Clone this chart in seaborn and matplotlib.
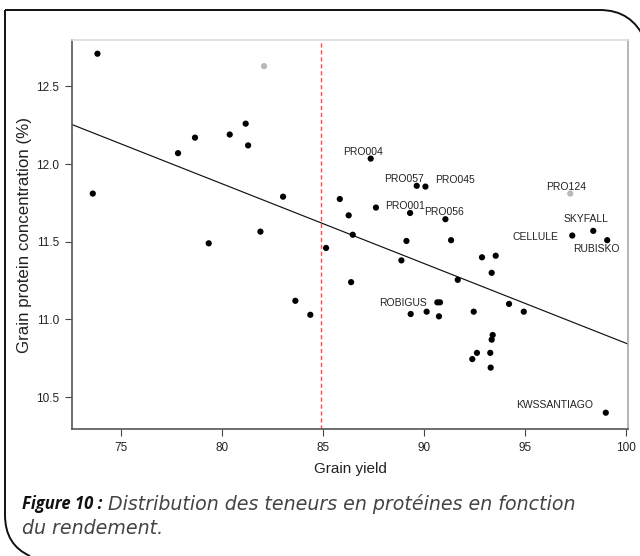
import matplotlib
matplotlib.use("Agg")
import matplotlib.pyplot as plt
import seaborn as sns
import pandas as pd
from matplotlib.path import Path
from matplotlib.patches import PathPatch

# ---- data ----
yield_vals = [73.83, 82.08, 78.66, 80.38, 81.17, 81.29, 77.82, 73.60, 83.02, 81.90,
              79.34, 85.15, 83.63, 84.37, 87.36, 89.64, 90.07, 97.24, 85.83, 87.62,
              89.31, 91.06, 86.27, 86.47, 89.13, 91.34, 97.34, 98.38, 99.07, 92.87,
              93.55, 88.88, 93.35, 91.67, 86.39, 90.66, 90.79, 94.21, 89.34, 90.13,
              92.46, 94.94, 90.74, 93.40, 93.35, 92.62, 93.28, 92.39, 93.30, 99.00]
protein_vals = [12.71, 12.63, 12.17, 12.19, 12.26, 12.12, 12.07, 11.81, 11.79, 11.565,
                11.49, 11.46, 11.12, 11.03, 12.035, 11.86, 11.855, 11.81, 11.775, 11.72,
                11.685, 11.645, 11.67, 11.545, 11.505, 11.51, 11.54, 11.57, 11.51, 11.40,
                11.41, 11.38, 11.30, 11.255, 11.24, 11.11, 11.11, 11.10, 11.035, 11.05,
                11.05, 11.05, 11.02, 10.90, 10.87, 10.785, 10.785, 10.745, 10.69, 10.40]
point_group = ["main"] * 50
point_group[1] = "grey"
point_group[17] = "grey"
point_labels = [""] * 50
point_labels[14] = "PRO004"
point_labels[15] = "PRO057"
point_labels[16] = "PRO045"
point_labels[17] = "PRO124"
point_labels[19] = "PRO001"
point_labels[21] = "PRO056"
point_labels[26] = "CELLULE"
point_labels[27] = "SKYFALL"
point_labels[28] = "RUBISKO"
point_labels[35] = "ROBIGUS"
point_labels[49] = "KWSSANTIAGO"

fit_intercept = 15.977
fit_slope = -0.0513
yield_threshold = 84.88

x_ticks = [75, 80, 85, 90, 95, 100]
y_ticks = [10.5, 11.0, 11.5, 12.0, 12.5]

caption_bold = "Figure 10 :"
caption_line1 = "Distribution des teneurs en protéines en fonction"
caption_line2 = "du rendement."

# label offsets in pixels (layout)
label_offsets = {
    "PRO004": (-8, 7), "PRO057": (-13, 7), "PRO045": (30, 7), "PRO124": (-4, 7),
    "PRO001": (29, 2), "PRO056": (-1, 7), "CELLULE": (-37, -1), "SKYFALL": (-7, 12),
    "RUBISKO": (-11, -9), "ROBIGUS": (-34, -1), "KWSSANTIAGO": (-51, 8),
}

df = pd.DataFrame({"yield": yield_vals, "protein": protein_vals,
                   "group": point_group, "label": point_labels})

sns.set_style("white")
plt.rcParams["font.family"] = ["Liberation Sans", "DejaVu Sans"]

fig = plt.figure(figsize=(6.4, 5.56), dpi=100)
ax = fig.add_axes([0.1125, 0.2284, 0.86875, 0.6996])

sns.scatterplot(data=df, x="yield", y="protein", hue="group",
                palette={"main": "black", "grey": "#b8b8b8"},
                s=20, edgecolor="none", legend=False, ax=ax, zorder=3)

ax.axline((0, fit_intercept), slope=fit_slope, color="#111111", lw=0.85, zorder=2)
ax.axvline(yield_threshold, color="#ff4d4d", lw=1.0, ls=(0, (3, 2)), zorder=1)

for _, r in df.iterrows():
    if r["label"]:
        dx, dy = label_offsets[r["label"]]
        ax.annotate(r["label"], (r["yield"], r["protein"]), xytext=(dx, dy),
                    textcoords="offset pixels", ha="center", va="center",
                    fontsize=7.5, color="#222222")

ax.set_xlim(72.57, 100.1)
ax.set_ylim(10.295, 12.798)
ax.set_xticks(x_ticks)
ax.set_xticklabels([str(v) for v in x_ticks])
ax.set_yticks(y_ticks)
ax.set_yticklabels([f"{v:.1f}" for v in y_ticks])
ax.tick_params(axis="both", direction="out", length=5, width=0.8, color="#444444",
               labelsize=8.5, labelcolor="#222222", pad=4)
ax.tick_params(bottom=True, left=True)
ax.set_xlabel("Grain yield", fontsize=11, color="#222222", labelpad=6)
ax.set_ylabel("Grain protein concentration (%)", fontsize=12.2, color="#222222", labelpad=3)

for side, col in [("left", "#555555"), ("bottom", "#555555"),
                  ("top", "#dcdcdc"), ("right", "#a8a8a8")]:
    ax.spines[side].set_visible(True)
    ax.spines[side].set_color(col)
    ax.spines[side].set_linewidth(1.2)

# rounded frame
W, H = 640.0, 556.0
def P(x, y):
    return (x / W, 1 - y / H)
frame_left = Path([P(5, 10), P(5, 515), P(5, 545), P(30, 556)],
                  [Path.MOVETO, Path.LINETO, Path.CURVE3, Path.CURVE3])
frame_top = Path([P(5, 10), P(600, 10), P(632, 10), P(645, 40)],
                 [Path.MOVETO, Path.LINETO, Path.CURVE3, Path.CURVE3])
for pth in (frame_left, frame_top):
    fig.patches.append(PathPatch(pth, transform=fig.transFigure, fill=False,
                                 edgecolor="#111111", lw=1.4))

# caption
t1 = fig.text(22 / W, 1 - 504 / H, caption_bold, fontsize=12, fontstyle="italic",
              fontweight="bold", color="#111111", va="center", ha="left",
              family=["Open Sans", "DejaVu Sans"])
fig.canvas.draw()
bb = t1.get_window_extent()
x2 = (bb.x1 + 6) / fig.bbox.width
fig.text(x2, 1 - 504 / H, caption_line1,
         fontsize=13.7, fontstyle="italic", color="#444444", va="center", ha="left",
         family=["DejaVu Sans"])
fig.text(22 / W, 1 - 528 / H, caption_line2, fontsize=13.7, fontstyle="italic",
         color="#444444", va="center", ha="left", family=["DejaVu Sans"])

fig.savefig("out.png", dpi=100)
